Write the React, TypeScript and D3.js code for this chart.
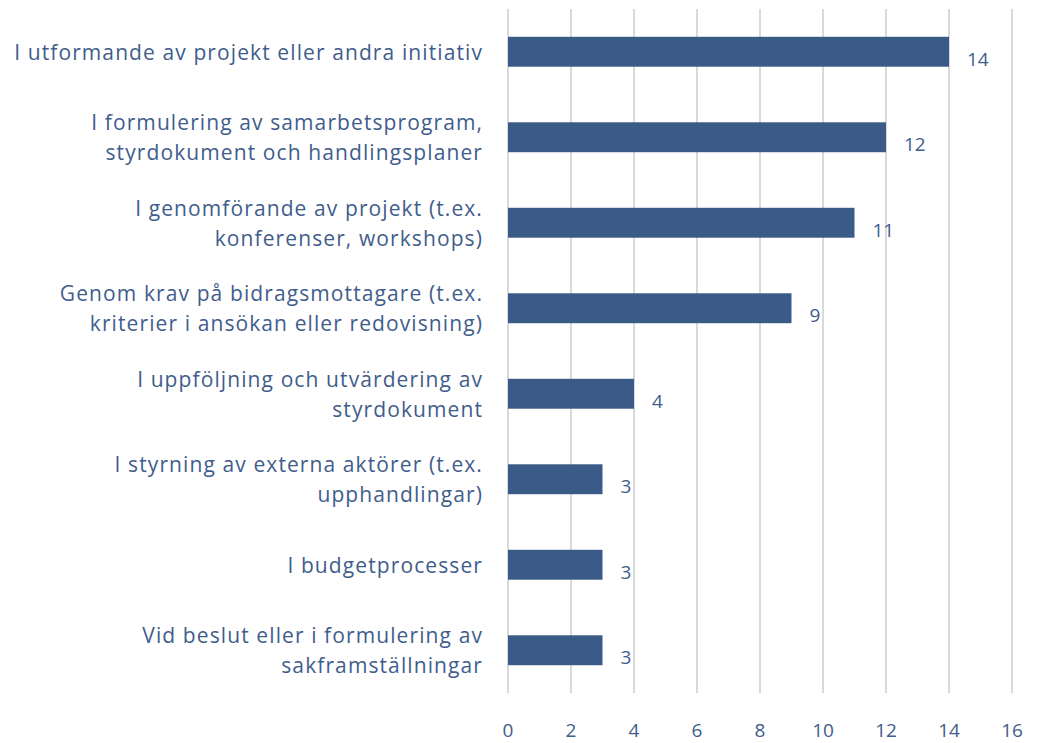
import React from "react";
import * as d3 from "d3";

const categories: string[][] = [
  ["I utformande av projekt eller andra initiativ"],
  ["I formulering av samarbetsprogram,", "styrdokument och handlingsplaner"],
  ["I genomförande av projekt (t.ex.", "konferenser, workshops)"],
  ["Genom krav på bidragsmottagare (t.ex.", "kriterier i ansökan eller redovisning)"],
  ["I uppföljning och utvärdering av", "styrdokument"],
  ["I styrning av externa aktörer (t.ex.", "upphandlingar)"],
  ["I budgetprocesser"],
  ["Vid beslut eller i formulering av", "sakframställningar"],
];
const values: number[] = [14, 12, 11, 9, 4, 3, 3, 3];
const xTicks: number[] = [0, 2, 4, 6, 8, 10, 12, 14, 16];

const W = 1042;
const H = 743;
const FONT = "'Open Sans', Lato, sans-serif";
const TEXT = "#3f5d8c";
const BAR = "#3a5a88";

export default function App() {
  const x = d3.scaleLinear().domain([0, 16]).range([508, 1012]);
  const y = d3
    .scaleBand<number>()
    .domain(values.map((_, i) => i))
    .range([9, 693])
    .paddingInner(0.65)
    .paddingOuter(0.325);

  return (
    <svg
      width={W}
      height={H}
      style={{ position: "absolute", left: 0, top: 0, background: "#fff" }}
      fontFamily={FONT}
    >
      {xTicks.map((t) => (
        <line
          key={"g" + t}
          x1={x(t)}
          x2={x(t)}
          y1={9}
          y2={693}
          stroke="#d9d9d9"
          strokeWidth={2}
        />
      ))}
      {values.map((v, i) => (
        <rect
          key={"b" + i}
          x={x(0)}
          y={y(i)!}
          width={x(v) - x(0)}
          height={y.bandwidth()}
          fill={BAR}
        />
      ))}
      {values.map((v, i) => (
        <text
          key={"v" + i}
          x={x(v) + 18}
          y={y(i)! + y.bandwidth() / 2 + 14}
          fontSize={19}
          fill={TEXT}
        >
          {v}
        </text>
      ))}
      {categories.map((lines, i) => {
        const cy = y(i)! + y.bandwidth() / 2;
        const lh = 30;
        const start = cy - ((lines.length - 1) * lh) / 2;
        return (
          <text
            key={"c" + i}
            textAnchor="end"
            fontSize={21}
            letterSpacing={1.1}
            fill={TEXT}
          >
            {lines.map((l, j) => (
              <tspan key={j} x={483} y={start + j * lh + 8}>
                {l}
              </tspan>
            ))}
          </text>
        );
      })}
      {xTicks.map((t) => (
        <text
          key={"t" + t}
          x={x(t)}
          y={737}
          textAnchor="middle"
          fontSize={19}
          fill={TEXT}
        >
          {t}
        </text>
      ))}
    </svg>
  );
}
